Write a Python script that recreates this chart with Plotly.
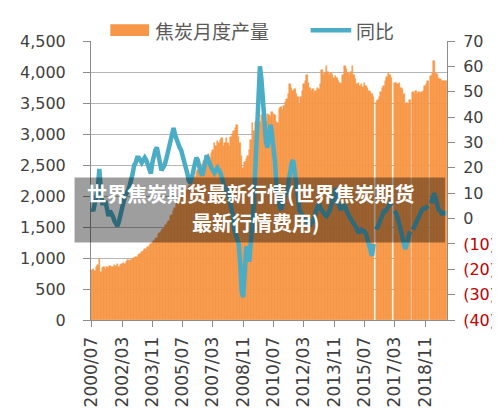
import plotly.graph_objects as go

# 月份 2000/07 - 2020/01
months = []
for y in range(2000, 2021):
    for m in range(1, 13):
        if (y == 2000 and m < 7) or (y == 2020 and m > 1):
            continue
        months.append("%d/%02d" % (y, m))

tick_labels = ["2000/07", "2002/03", "2003/11", "2005/07", "2007/03", "2008/11",
               "2010/07", "2012/03", "2013/11", "2015/07", "2017/03", "2018/11"]

# 焦炭月度产量 (万吨)
output_2000 = [800, 830, 790, 850, 880, 980]
output_2001 = [780, 840, 850, 830, 860, 840, 870, 860, 850, 880, 870, 900]
output_2002 = [860, 880, 900, 920, 910, 940, 960, 950, 970, 990, 1000, 1010]
output_2003 = [1020, 1050, 1070, 1090, 1120, 1150, 1140, 1180, 1200, 1220, 1250, 1280]
output_2004 = [1300, 1330, 1380, 1400, 1430, 1470, 1490, 1530, 1560, 1600, 1680, 1700]
output_2005 = [1760, 1800, 1900, 1880, 1950, 1990, 2000, 2030, 2060, 2100, 2150, 2180]
output_2006 = [2200, 2250, 2300, 2380, 2420, 2460, 2480, 2520, 2560, 2640, 2650, 2680]
output_2007 = [2620, 2700, 2750, 2850, 2800, 2880, 2850, 2900, 2930, 2800, 2850, 2930]
output_2008 = [2850, 2800, 2950, 3000, 3050, 3100, 3150, 2950, 2850, 2650, 2450, 2550]
output_2009 = [2600, 2650, 2750, 2900, 3180, 3050, 3200, 3150, 3250, 3200, 3300, 3280]
output_2010 = [3250, 3200, 3330, 3300, 3280, 3350, 3320, 3300, 3200, 3170, 3400, 3430]
output_2011 = [3380, 3450, 3520, 3560, 3650, 3800, 3750, 3700, 3720, 3650, 3600, 3480]
output_2012 = [3600, 3700, 3800, 3850, 3950, 3820, 3750, 3700, 3720, 3670, 3700, 3750]
output_2013 = [3720, 3800, 4035, 3950, 3980, 4095, 4000, 3950, 3980, 3950, 3900, 3940]
output_2014 = [3900, 3850, 3820, 3800, 3950, 4095, 4050, 3980, 3950, 4000, 4095, 3950]
output_2015 = [3880, 3800, 3820, 3780, 3800, 3760, 3820, 3780, 3750, 3700, 3680, 3650]
output_2016 = [3600, None, 3510, 3550, 3600, 3680, 3750, 3780, 3850, 3920, 3990, 3955]
output_2017 = [3900, None, 3830, 3820, 3800, 3830, 3750, 3720, 3650, 3480, 3500, 3480]
output_2018 = [3550, None, 3670, 3650, 3700, 3640, 3680, 3660, 3670, 3700, 3780, 3800]
output_2019 = [3850, None, 3940, 3990, 4170, 3980, 3970, 3900, 3880, 3870, 3850, 3860]
output_2020 = [3860]

# 同比 (%)
yoy_2000 = [4, 3, 6, 8, 12, 19.6]
yoy_2001 = [11, 6, 6, 7, 4, 1, 3, 2, 0.8, -1, -2, -3]
yoy_2002 = [-1, 2, 4.6, 6, 9, 10, 11, 13, 15, 17.7, 21, 22]
yoy_2003 = [24, 24, 23, 22, 23, 24, 23, 21, 19, 17.7, 22, 25]
yoy_2004 = [27, 28, 25, 22, 19, 20, 21, 23, 25.5, 28, 31, 34]
yoy_2005 = [35.7, 33, 31, 29, 28, 27, 25, 23, 21, 18, 15, 14]
yoy_2006 = [16, 19, 22, 24, 23, 20, 18, 17, 20, 24, 25, 23]
yoy_2007 = [21, 20, 19, 18, 19, 20, 19, 18, 16, 13, 11, 12]
yoy_2008 = [9, 6, 4, 2, -4, -6, -8, -10, -18, -29, -31, -22]
yoy_2009 = [-11, -13, -17, -9, -2, 6, 20, 32, 47, 60, 55, 47]
yoy_2010 = [38, 30, 28, 33, 37, 33, 29, 22, 12, 8, 5, 3.4]
yoy_2011 = [6, 8, 10, 11, 15, 19, 22, 23, 19, 15, 9, 3.4]
yoy_2012 = [2, 0.8, 0, -1, -1, -2, -1, -2, -1, 0, 3, 5]
yoy_2013 = [6, 4, 3, 2, 1.5, 1, 2, 3, 5, 8, 10, 12]
yoy_2014 = [7, 5, 4, 4, 5, 5, 3, 2, 0.8, 0, -1, -1.5]
yoy_2015 = [-3, -4, -5.7, -5, -4.4, -5, -5, -6, -8, -9.4, -12, -14.7]
yoy_2016 = [-10, None, -4.4, -3, -1, 0.8, 2, 3, 3, 4, 5, 6]
yoy_2017 = [5, None, 3, 2, 0, -2, -4, -7, -10, -12, -10, -7]
yoy_2018 = [-5, None, -4.4, -3, -2, -1, 1, 2, 3.4, 4, 4, 4.5]
yoy_2019 = [5, None, 6, 8, 10, 8, 5, 3.4, 3, 2, 2.2, 2]
yoy_2020 = [2]

output = (output_2000 + output_2001 + output_2002 + output_2003 + output_2004 + output_2005
          + output_2006 + output_2007 + output_2008 + output_2009 + output_2010 + output_2011
          + output_2012 + output_2013 + output_2014 + output_2015 + output_2016 + output_2017
          + output_2018 + output_2019 + output_2020)
yoy = (yoy_2000 + yoy_2001 + yoy_2002 + yoy_2003 + yoy_2004 + yoy_2005 + yoy_2006 + yoy_2007
       + yoy_2008 + yoy_2009 + yoy_2010 + yoy_2011 + yoy_2012 + yoy_2013 + yoy_2014 + yoy_2015
       + yoy_2016 + yoy_2017 + yoy_2018 + yoy_2019 + yoy_2020)

right_vals = [70, 60, 50, 40, 30, 20, 10, 0, -10, -20, -30, -40]
right_text = []
for v in right_vals:
    if v < 0:
        right_text.append("<span style='color:#C00000'>(%d)</span>" % -v)
    else:
        right_text.append(str(v))

ORANGE = "#F79646"
TEAL = "#4BACC6"
GRAY = "#8C8C8C"
TXT = "#404040"

# 绘图区像素位置
L, R, T, B = 75, 443, 33, 317
W, H = 500, 411

def px(x):
    return (x - L) / (R - L)

def py(y):
    return (B - y) / (B - T)

fig = go.Figure()
fig.add_trace(go.Bar(x=months, y=output, marker=dict(color=ORANGE, line=dict(color=ORANGE, width=0.5)),
                     showlegend=False, hoverinfo="x+y"))
fig.add_trace(go.Scatter(x=months, y=yoy, yaxis="y2", mode="lines", connectgaps=False,
                         line=dict(color=TEAL, width=4.5), showlegend=False))

fig.update_layout(
    width=W, height=H,
    margin=dict(l=L, r=W - R, t=T, b=H - B),
    paper_bgcolor="white", plot_bgcolor="white",
    bargap=0,
    font=dict(family="DejaVu Sans", size=16, color=TXT),
    xaxis=dict(type="category", tickvals=tick_labels, ticktext=tick_labels, tickangle=-90,
               ticks="outside", ticklen=6, tickcolor=GRAY, showline=True, linecolor=GRAY,
               showgrid=False, tickfont=dict(size=17, color=TXT), ticklabelstandoff=3,
               range=[-0.5, len(months) - 0.5]),
    yaxis=dict(range=[0, 4500], dtick=500, tickformat=",d", showline=True, linecolor=GRAY,
               ticks="outside", ticklen=7, tickcolor=GRAY, gridcolor="#B5B5B5", gridwidth=1,
               zeroline=False, ticklabelstandoff=14, tickfont=dict(size=16, color=TXT)),
    yaxis2=dict(overlaying="y", side="right", range=[-40, 70], tickvals=right_vals,
                ticktext=right_text, showline=True, linecolor=GRAY, ticks="outside", ticklen=7,
                tickcolor=GRAY, showgrid=False, zeroline=False, ticklabelstandoff=5,
                tickfont=dict(size=16, color=TXT)),
)

# 图例
fig.add_shape(type="rect", xref="paper", yref="paper", x0=px(95), x1=px(135), y0=py(28), y1=py(16),
              fillcolor=ORANGE, line=dict(width=0))
fig.add_annotation(text="焦炭月度产量", xref="paper", yref="paper", x=px(139), y=py(22),
                   xanchor="left", yanchor="middle", showarrow=False,
                   font=dict(family="Noto Sans CJK SC", size=19, color="#595959"))
fig.add_shape(type="line", xref="paper", yref="paper", x0=px(302), x1=px(344), y0=py(22), y1=py(22),
              line=dict(color=TEAL, width=4.5))
fig.add_annotation(text="同比", xref="paper", yref="paper", x=px(347), y=py(22),
                   xanchor="left", yanchor="middle", showarrow=False,
                   font=dict(family="Noto Sans CJK SC", size=19, color="#595959"))

# 水印标题
fig.add_shape(type="rect", xref="paper", yref="paper", x0=px(58), x1=px(441), y0=py(238), y1=py(172),
              fillcolor="rgba(0,0,0,0.38)", line=dict(width=0), layer="above")
fig.add_annotation(text="<b>世界焦炭期货最新行情(世界焦炭期货</b>", xref="paper", yref="paper",
                   x=px(240), y=py(188), xanchor="center", yanchor="middle", showarrow=False,
                   font=dict(family="Noto Sans CJK SC", size=20, color="white"))
fig.add_annotation(text="<b>最新行情费用)</b>", xref="paper", yref="paper",
                   x=px(246), y=py(218), xanchor="center", yanchor="middle", showarrow=False,
                   font=dict(family="Noto Sans CJK SC", size=20, color="white"))

fig.write_html("out.html")
